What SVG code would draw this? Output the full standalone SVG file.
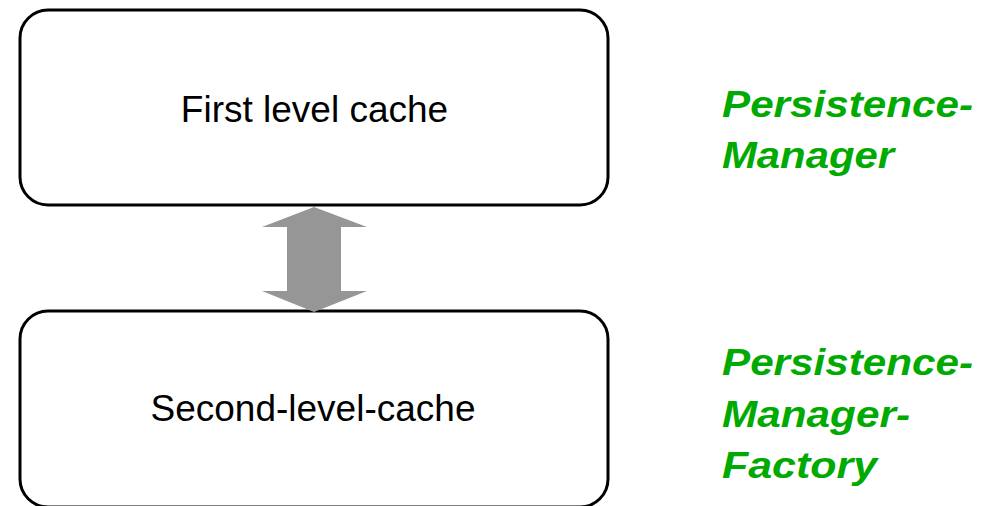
<svg xmlns="http://www.w3.org/2000/svg" width="993" height="506" viewBox="0 0 993 506">
<style>
.box{fill:#fff;stroke:#000;stroke-width:3}
.lbl{font-family:"Liberation Sans",Arial,sans-serif;font-size:37px;fill:#000;text-anchor:middle}
.grn{font-family:"Liberation Sans",Arial,sans-serif;font-size:37px;font-weight:bold;font-style:italic;fill:#00AA00}
.arr{fill:#969696;stroke:none}
</style>
<rect width="993" height="506" fill="#fff"/>
<g id="first-level-cache">
<rect class="box" x="20" y="10" width="588" height="195" rx="28" ry="28"/>
<text class="lbl" x="314.5" y="122">First level cache</text>
</g>
<g id="second-level-cache">
<rect class="box" x="20" y="311" width="588" height="196" rx="28" ry="28"/>
<text class="lbl" x="313" y="421">Second-level-cache</text>
</g>
<g id="connectors">
<polygon class="arr" points="314,207 367,227 341,227 341,291 367,291 314,312 262,291 287,291 287,227 262,227"/>
</g>
<g id="persistence-manager">
<text class="grn" x="722" y="117" textLength="251" lengthAdjust="spacingAndGlyphs">Persistence-</text>
<text class="grn" x="722" y="168" textLength="172" lengthAdjust="spacingAndGlyphs">Manager</text>
</g>
<g id="persistence-manager-factory">
<text class="grn" x="722" y="375" textLength="251" lengthAdjust="spacingAndGlyphs">Persistence-</text>
<text class="grn" x="722" y="427" textLength="188" lengthAdjust="spacingAndGlyphs">Manager-</text>
<text class="grn" x="722" y="478" textLength="155" lengthAdjust="spacingAndGlyphs">Factory</text>
</g>
</svg>
